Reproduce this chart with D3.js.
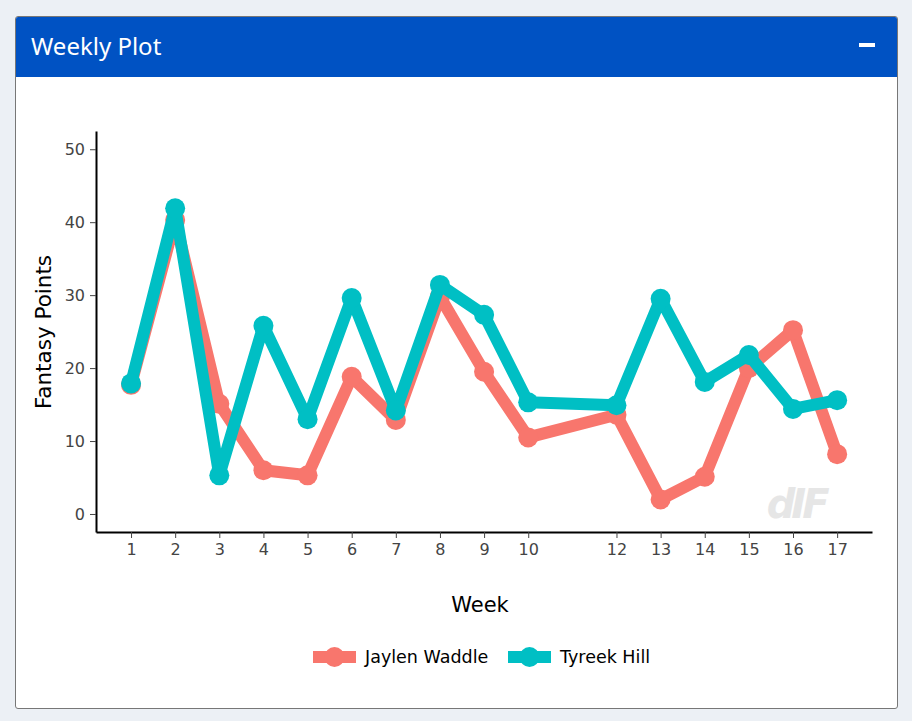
<!DOCTYPE html>
<html>
<head>
<meta charset="utf-8">
<script src="https://cdn.jsdelivr.net/npm/d3@7"></script>
<style>
  body { margin: 0; background: #ecf0f5; }
  .box {
    position: absolute; left: 15px; top: 16px; width: 881px; height: 691px;
    background: #fff; border: 1px solid #777; border-radius: 3px; overflow: hidden;
  }
  .box-header {
    height: 60px; background: #0052c3; color: #fff;
    font-family: "Noto Sans", sans-serif; font-size: 24px;
    line-height: 58px; padding-left: 15px; position: relative;
  }
  .box-header .tool {
    position: absolute; right: 22px; top: 26px; width: 16px; height: 4px; background: #fff;
  }
  svg { position: absolute; left: 0; top: 61px; }
</style>
</head>
<body>
<div class="box">
  <div class="box-header">Weekly Plot<div class="tool"></div></div>
  <div id="chart"></div>
</div>
<script>
// Data
var weeks = [1, 2, 3, 4, 5, 6, 7, 8, 9, 10, 12, 13, 14, 15, 16, 17];
var waddle = [17.7, 40.3, 15.1, 6.0, 5.3, 18.8, 12.9, 29.8, 19.5, 10.5, 13.6, 2.0, 5.1, 20.0, 25.2, 8.2];
var hill = [17.9, 41.9, 5.3, 25.8, 13.0, 29.6, 14.2, 31.4, 27.3, 15.3, 14.9, 29.5, 18.1, 21.8, 14.4, 15.6];
var yTicks = [0, 10, 20, 30, 40, 50];
var seriesNames = ["Jaylen Waddle", "Tyreek Hill"];
var seriesColors = ["#f8766d", "#00bfc4"];

// SVG area (coordinates relative to the box)
var svgWidth = 881;
var svgHeight = 630;
var offX = 16, offY = 78; // page offset of svg origin

var svg = d3.select("#chart").append("svg")
  .attr("width", svgWidth)
  .attr("height", svgHeight);

// plot area in page coords converted to svg coords
var plotLeft = 96 - offX, plotRight = 872 - offX, plotTop = 131 - offY, plotBottom = 532 - offY;

var x = d3.scaleLinear().domain([0.206, 17.79]).range([plotLeft, plotRight]);
var y = d3.scaleLinear().domain([-2.47, 52.5]).range([plotBottom, plotTop]);

var font = "DejaVu Sans, Verdana, sans-serif";

// watermark
svg.append("text")
  .attr("x", x(16.07))
  .attr("y", y(-0.6))
  .attr("text-anchor", "middle")
  .attr("font-family", font)
  .attr("font-weight", "bold")
  .attr("font-style", "italic")
  .attr("font-size", 40)
  .attr("letter-spacing", -4)
  .attr("fill", "#e6e6e6")
  .text("dIF");

// axes
var xAxis = svg.append("g")
  .attr("transform", `translate(0, ${plotBottom})`)
  .call(d3.axisBottom(x).tickValues(weeks).tickSize(6).tickSizeOuter(0).tickPadding(6));
var yAxis = svg.append("g")
  .attr("transform", `translate(${plotLeft}, 0)`)
  .call(d3.axisLeft(y).tickValues(yTicks).tickSize(6).tickSizeOuter(0).tickPadding(5));

[xAxis, yAxis].forEach(function(a) {
  a.select(".domain").attr("stroke", "#000").attr("stroke-width", 2);
  a.selectAll(".tick line").attr("stroke", "#444").attr("stroke-width", 1);
  a.selectAll(".tick text")
    .attr("fill", "#444")
    .attr("font-family", font)
    .attr("font-size", 16);
});

// axis titles
svg.append("text")
  .attr("x", (plotLeft + plotRight) / 2 - 4)
  .attr("y", 612 - offY)
  .attr("text-anchor", "middle")
  .attr("font-family", font)
  .attr("font-size", 21)
  .attr("fill", "#000")
  .text("Week");

svg.append("text")
  .attr("transform", `translate(${51 - offX}, ${332 - offY}) rotate(-90)`)
  .attr("text-anchor", "middle")
  .attr("font-family", font)
  .attr("font-size", 21.5)
  .attr("fill", "#000")
  .text("Fantasy Points");

// lines
var line = d3.line()
  .x((d, i) => x(weeks[i]))
  .y(d => y(d));

[waddle, hill].forEach(function(values, s) {
  var g = svg.append("g");
  g.append("path")
    .attr("d", line(values))
    .attr("fill", "none")
    .attr("stroke", seriesColors[s])
    .attr("stroke-width", 12)
    .attr("stroke-linejoin", "round");
  g.selectAll("circle")
    .data(values)
    .enter()
    .append("circle")
    .attr("cx", (d, i) => x(weeks[i]))
    .attr("cy", d => y(d))
    .attr("r", 10)
    .attr("fill", seriesColors[s]);
});

// legend
var legendX = [313, 508];
var legendY = 657 - offY;
seriesNames.forEach(function(name, s) {
  var lg = svg.append("g").attr("transform", `translate(${legendX[s] - offX}, ${legendY})`);
  lg.append("line")
    .attr("x1", 0).attr("x2", 43)
    .attr("stroke", seriesColors[s])
    .attr("stroke-width", 12);
  lg.append("circle")
    .attr("cx", 21.5).attr("r", 10)
    .attr("fill", seriesColors[s]);
  lg.append("text")
    .attr("x", 52)
    .attr("dy", "0.35em")
    .attr("font-family", font)
    .attr("font-size", 17.5)
    .attr("fill", "#000")
    .text(name);
});
</script>
</body>
</html>
